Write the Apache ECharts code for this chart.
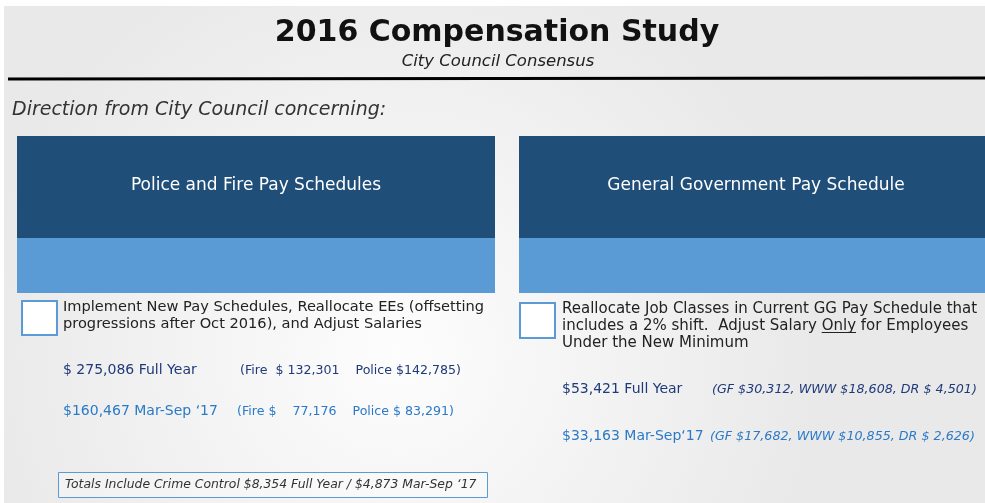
<!DOCTYPE html>
<html>
<head>
<meta charset="utf-8">
<script src="https://cdn.jsdelivr.net/npm/echarts@6/dist/echarts.min.js"></script>
<style>
body { margin: 0; background: #fff; }
#main { width: 985px; height: 503px; }
</style>
</head>
<body>
<div id="main"></div>
<script>
// slide text and figures
const title = '2016 Compensation Study'
const subtitle = 'City Council Consensus'
const direction = 'Direction from City Council concerning:'
const panelTitles = ['Police and Fire Pay Schedules', 'General Government Pay Schedule']
const panelNotes = [
  ['Implement New Pay Schedules, Reallocate EEs (offsetting', 'progressions after Oct 2016), and Adjust Salaries'],
  ['Reallocate Job Classes in Current GG Pay Schedule that', 'includes a 2% shift.  Adjust Salary Only for Employees', 'Under the New Minimum']
]
const fullYear = ['$ 275,086 Full Year', '$53,421 Full Year']
const fullYearSplit = ['(Fire  $ 132,301    Police $142,785)', '(GF $30,312, WWW $18,608, DR $ 4,501)']
const marSep = ['$160,467 Mar-Sep \u201817', '$33,163 Mar-Sep\u201817']
const marSepSplit = ['(Fire $    77,176    Police $ 83,291)', '(GF $17,682, WWW $10,855, DR $ 2,626)']
const footnote = 'Totals Include Crime Control $8,354 Full Year / $4,873 Mar-Sep \u201817'

const font = 'DejaVu Sans'
const dark = '#1f4e79'
const light = '#5b9bd5'
const navy = '#1f3a7a'
const bright = '#2a7ac8'

const chart = echarts.init(document.getElementById('main'))

// used only to place the underline under "Only"
const ctx = document.createElement('canvas').getContext('2d')
function textWidth(s, f) { ctx.font = f; return ctx.measureText(s).width }

const panelX = [17, 519]
const panelW = [478, 466]
const g = []

// background
g.push({
  type: 'rect', shape: { x: 4, y: 6, width: 981, height: 497 }, z: 0,
  style: {
    fill: new echarts.graphic.RadialGradient(0.4, 0.7, 0.85, [
      { offset: 0, color: '#fdfdfd' },
      { offset: 1, color: '#e9e9e9' }
    ])
  }
})

g.push({ type: 'text', x: 497, y: 33, z: 5,
  style: { text: title, font: 'bold 30px ' + font, fill: '#111', align: 'center', verticalAlign: 'middle' } })
g.push({ type: 'text', x: 498, y: 62, z: 5,
  style: { text: subtitle, font: 'italic 16.5px ' + font, fill: '#222', align: 'center', verticalAlign: 'middle' } })
g.push({ type: 'line', z: 5, shape: { x1: 8, y1: 79, x2: 985, y2: 78 }, style: { stroke: '#000', lineWidth: 3 } })
g.push({ type: 'text', x: 12, y: 110, z: 5,
  style: { text: direction, font: 'italic 19px ' + font, fill: '#333', verticalAlign: 'middle' } })

panelTitles.forEach(function (t, i) {
  const x = panelX[i], w = panelW[i]
  g.push({ type: 'rect', z: 2, shape: { x: x, y: 136, width: w, height: 102 }, style: { fill: dark } })
  g.push({ type: 'rect', z: 2, shape: { x: x, y: 238, width: w, height: 55 }, style: { fill: light } })
  g.push({ type: 'text', z: 5, x: i === 0 ? 256 : 756, y: 186,
    style: { text: t, font: '17px ' + font, fill: '#fff', align: 'center', verticalAlign: 'middle' } })
})

// checkboxes
g.push({ type: 'rect', z: 3, shape: { x: 22, y: 301, width: 35, height: 34 }, style: { fill: '#fff', stroke: light, lineWidth: 2 } })
g.push({ type: 'rect', z: 3, shape: { x: 520, y: 303, width: 35, height: 35 }, style: { fill: '#fff', stroke: light, lineWidth: 2 } })

const leftNoteFont = '14.6px ' + font
const rightNoteFont = '15px ' + font
panelNotes[0].forEach(function (line, k) {
  g.push({ type: 'text', z: 5, x: 63, y: 307 + k * 17,
    style: { text: line, font: leftNoteFont, fill: '#222', verticalAlign: 'middle' } })
})
panelNotes[1].forEach(function (line, k) {
  g.push({ type: 'text', z: 5, x: 562, y: 309 + k * 17,
    style: { text: line, font: rightNoteFont, fill: '#222', verticalAlign: 'middle' } })
})
// underline "Only"
const onlyLine = panelNotes[1][1]
const ux = 562 + textWidth(onlyLine.slice(0, onlyLine.indexOf('Only')), rightNoteFont)
const uw = textWidth('Only', rightNoteFont)
g.push({ type: 'line', z: 5, shape: { x1: ux, y1: 332.5, x2: ux + uw, y2: 332.5 }, style: { stroke: '#222', lineWidth: 1 } })

// left amounts
g.push({ type: 'text', z: 5, x: 63, y: 370, style: { text: fullYear[0], font: '14px ' + font, fill: navy, verticalAlign: 'middle' } })
g.push({ type: 'text', z: 5, x: 240, y: 371, style: { text: fullYearSplit[0], font: '12.6px ' + font, fill: navy, verticalAlign: 'middle' } })
g.push({ type: 'text', z: 5, x: 63, y: 411, style: { text: marSep[0], font: '14px ' + font, fill: bright, verticalAlign: 'middle' } })
g.push({ type: 'text', z: 5, x: 237, y: 412, style: { text: marSepSplit[0], font: '12.6px ' + font, fill: bright, verticalAlign: 'middle' } })

// right amounts
g.push({ type: 'text', z: 5, x: 562, y: 389, style: { text: fullYear[1], font: '14px ' + font, fill: navy, verticalAlign: 'middle' } })
g.push({ type: 'text', z: 5, x: 712, y: 390, style: { text: fullYearSplit[1], font: 'italic 12.7px ' + font, fill: navy, verticalAlign: 'middle' } })
g.push({ type: 'text', z: 5, x: 562, y: 436, style: { text: marSep[1], font: '14px ' + font, fill: bright, verticalAlign: 'middle' } })
g.push({ type: 'text', z: 5, x: 710, y: 437, style: { text: marSepSplit[1], font: 'italic 12.7px ' + font, fill: bright, verticalAlign: 'middle' } })

// footnote box
g.push({ type: 'rect', z: 3, shape: { x: 58.5, y: 472.5, width: 429, height: 25 }, style: { fill: 'rgba(255,255,255,0.3)', stroke: light, lineWidth: 1 } })
g.push({ type: 'text', z: 5, x: 65, y: 485, style: { text: footnote, font: 'italic 12.4px ' + font, fill: '#333', verticalAlign: 'middle' } })

chart.setOption({ animation: false, graphic: { elements: g } })
</script>
</body>
</html>
